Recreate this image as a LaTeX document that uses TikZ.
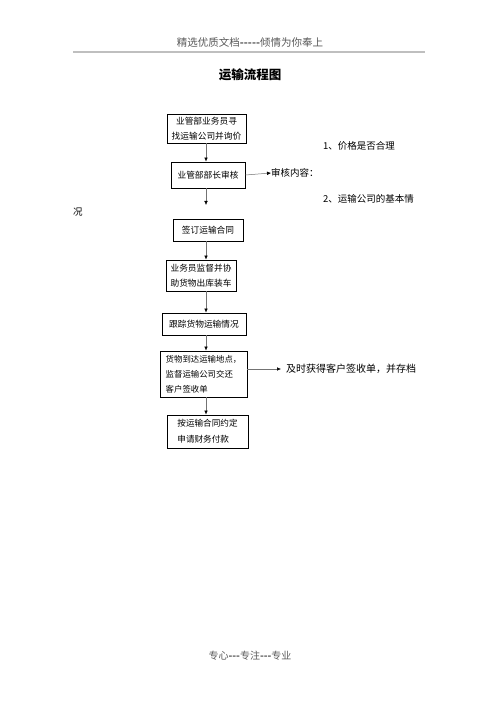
\documentclass[tikz,border=0pt]{standalone}
\usepackage{fontspec}
\setmainfont{Noto Sans CJK SC}
\usetikzlibrary{arrows.meta,calc}
\tikzset{
  box/.style={draw=black, line width=0.9pt, inner sep=0pt, font=\fontsize{8.7}{14.5}\selectfont},
  arr/.style={draw=black!55, line width=0.5pt, -{Latex[length=4pt,width=3.6pt,color=black]}},
  lbl/.style={inner sep=0pt, anchor=west, font=\fontsize{9.5}{12}\selectfont},
}
\begin{document}
\begin{tikzpicture}[x=1pt,y=-1pt]
\useasboundingbox (0,0) rectangle (500,708);
\fill[white] (0,0) rectangle (500,708);
% header
\node[inner sep=0pt, text=black!65, font=\fontsize{10.5}{12}\selectfont] (hdr) at (250,42) {精选优质文档{\bfseries -{}-{}-{}-{}-}倾情为你奉上};
\coordinate (hl) at (73,52);
\coordinate (hr) at (425,52);
\draw[black!25, line width=1.3pt] (hl) -- (hr);
\node[inner sep=0pt, font=\bfseries\fontsize{12.5}{14}\selectfont] (title) at (250,75) {运输流程图};
% boxes
\node[box, minimum width=79pt, minimum height=29pt, align=center] (b1) at (206.5,128.5) {业管部业务员寻\\找运输公司并询价};
\node[box, minimum width=74pt, minimum height=26pt] (b2) at (208,175) {业管部部长审核};
\node[box, minimum width=70pt, minimum height=22pt] (b3) at (208,230) {签订运输合同};
\node[box, minimum width=70pt, minimum height=31pt, align=center] (b4) at (201,275.5) {业务员监督并协\\助货物出库装车};
\node[box, minimum width=84pt, minimum height=22pt] (b5) at (204,324) {跟踪货物运输情况};
\node[box, minimum width=87pt, minimum height=46pt, align=left, font=\fontsize{8.4}{15}\selectfont] (b6) at (203.5,374) {货物到达运输地点，\\监督运输公司交还\\客户签收单};
\node[box, minimum width=81pt, minimum height=33pt, align=left, font=\fontsize{8.6}{16}\selectfont] (b7) at (207.5,431.5) {按运输合同约定\\申请财务付款\hspace*{8.6pt}};
% side texts
\node[lbl] (t1) at (271,173) {审核内容：};
\node[lbl] (t2) at (323,146) {1、价格是否合理};
\node[lbl] (t3) at (323,199) {2、运输公司的基本情};
\node[lbl] (t4) at (73,212) {况};
\node[lbl, font=\fontsize{10}{12}\selectfont] (t5) at (286,369) {及时获得客户签收单，并存档};
% footer
\node[inner sep=0pt, text=black!65, font=\fontsize{10}{12}\selectfont] (ftr) at (250,656) {专心{\bfseries -{}-{}-}专注{\bfseries -{}-{}-}专业};
% connectors
\coordinate (col) at (206,0);
\coordinate (e2) at (206,205);
\draw[arr] (b1.south -| col) -- (b2.north -| col);
\draw[arr] (b2.south -| col) -- (e2);
\draw[arr] (b3.south -| col) -- (b4.north -| col);
\draw[arr] (b4.south -| col) -- (b5.north -| col);
\draw[arr] (b5.south -| col) -- (b6.north -| col);
\draw[arr] (b6.south -| col) -- (b7.north -| col);
\draw[arr] (b2.east) -- (t1.west);
\draw[arr] (b6.east |- t5.west) -- ($(t5.west)+(-5,0)$);
\end{tikzpicture}
\end{document}
